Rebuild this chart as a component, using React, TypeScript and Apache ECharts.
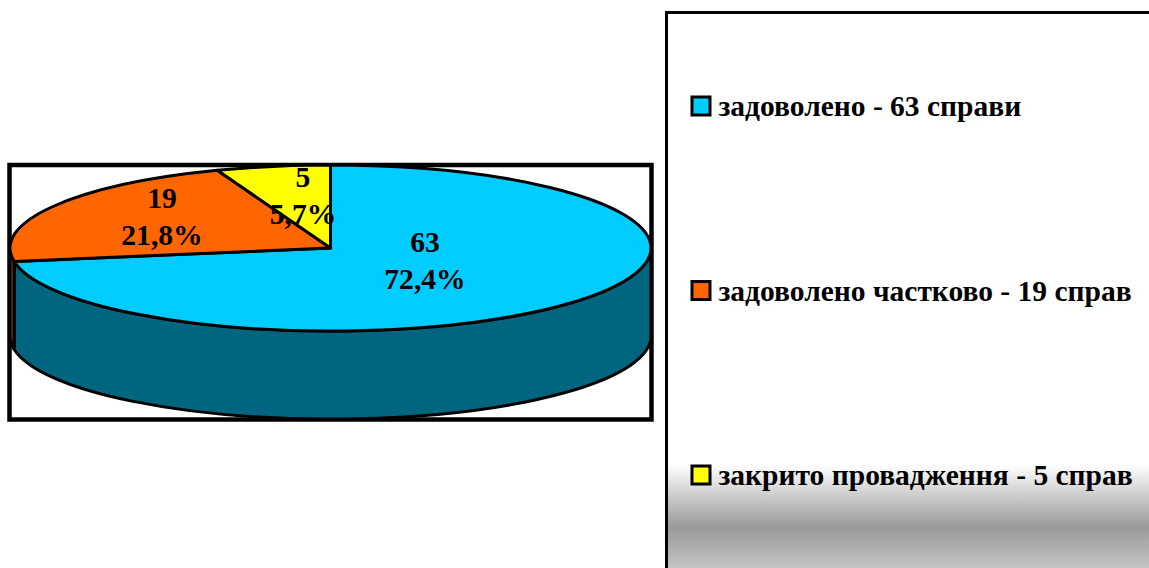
import React, { useEffect, useRef } from "react";
import * as echarts from "echarts";

const legendNames = ["задоволено - 63 справи", "задоволено частково - 19 справ", "закрито провадження - 5 справ"];
const caseCounts = [63, 19, 5];
const percentLabels = ["72,4%", "21,8%", "5,7%"];
const topColors = ["#00CCFF", "#FF6600", "#FFFF00"];
const sideColors = ["#006680", "#803300", "#808000"];

const FONT = "'Liberation Serif', 'Times New Roman', serif";
const CX = 330.5, CY = 248, RX = 320.5, RY = 83, DEPTH = 88;
const LABEL_CENTERS = [[425, 260], [162, 216], [303, 195]];

const total = caseCounts.reduce((a, b) => a + b, 0);
const pt = (a: number, dy = 0) => [CX + RX * Math.sin(a), CY - RY * Math.cos(a) + dy];

function makeSeries(i: number) {
  const before = caseCounts.slice(0, i).reduce((a, b) => a + b, 0);
  return {
    type: "custom",
    name: legendNames[i],
    coordinateSystem: "none",
    silent: true,
    itemStyle: { color: topColors[i] },
    data: [[caseCounts[i], before]],
    renderItem: (_p: any, api: any) => {
      const value = api.value(0), prior = api.value(1);
      const a0 = (prior / total) * 2 * Math.PI;
      const a1 = ((prior + value) / total) * 2 * Math.PI;
      const children: any[] = [];
      const stroke = { stroke: "#000", lineWidth: 3, lineJoin: "round" };
      // visible wall: the front half of the rim only
      const s0 = Math.max(a0, Math.PI / 2), s1 = Math.min(a1, (3 * Math.PI) / 2);
      if (s1 > s0) {
        const [x0, y0] = pt(s0), [x1, y1] = pt(s1), [x2, y2] = pt(s1, DEPTH), [x3, y3] = pt(s0, DEPTH);
        children.push({
          type: "path",
          shape: {
            pathData: `M${x0} ${y0}A${RX} ${RY} 0 0 1 ${x1} ${y1}L${x2} ${y2}A${RX} ${RY} 0 0 0 ${x3} ${y3}Z`,
          },
          style: { fill: sideColors[i], ...stroke },
        });
      }
      const [tx0, ty0] = pt(a0), [tx1, ty1] = pt(a1);
      const large = a1 - a0 > Math.PI ? 1 : 0;
      children.push({
        type: "path",
        shape: {
          pathData: `M${CX} ${CY}L${tx0} ${ty0}A${RX} ${RY} 0 ${large} 1 ${tx1} ${ty1}Z`,
        },
        style: { fill: topColors[i], ...stroke },
      });
      children.push({
        type: "text",
        x: LABEL_CENTERS[i][0],
        y: LABEL_CENTERS[i][1],
        style: {
          text: `${value}\n${percentLabels[i]}`,
          fontFamily: FONT,
          fontWeight: "bold",
          fontSize: 29.6,
          lineHeight: 37,
          fill: "#000",
          align: "center",
          verticalAlign: "middle",
        },
      });
      return { type: "group", children };
    },
  };
}

export default function App() {
  const ref = useRef<HTMLDivElement>(null);
  useEffect(() => {
    document.body.style.margin = "0";
    document.body.style.overflow = "hidden";
    const chart = echarts.init(ref.current!, undefined, { renderer: "svg" });
    chart.setOption({
      animation: false,
      backgroundColor: "#fff",
      graphic: [
        {
          type: "rect",
          z: -1,
          shape: { x: 9.5, y: 165, width: 642, height: 254.5 },
          style: { fill: "#fff", stroke: "#000", lineWidth: 4.5 },
        },
        {
          type: "rect",
          z: -1,
          shape: { x: 666.5, y: 12.5, width: 600, height: 555.5 + 40 },
          style: {
            stroke: "#000",
            lineWidth: 3,
            fill: new echarts.graphic.LinearGradient(0, 0, 0, 1, [
              { offset: 0, color: "#fff" },
              { offset: (465 - 12.5) / 595.5, color: "#fff" },
              { offset: (527 - 12.5) / 595.5, color: "#999" },
              { offset: (568 - 12.5) / 595.5, color: "#c4c4c4" },
              { offset: 1, color: "#c4c4c4" },
            ]),
          },
        },
      ],
      legend: {
        orient: "vertical",
        left: 690.5,
        top: 91,
        padding: 0,
        icon: "rect",
        itemWidth: 18,
        itemHeight: 18,
        itemGap: 154.5,
        selectedMode: false,
        data: legendNames,
        itemStyle: { borderColor: "#000", borderWidth: 3 },
        textStyle: { fontFamily: FONT, fontWeight: "bold", fontSize: 29.5, color: "#000", lineHeight: 30, padding: [0, 0, 0, 3.5] },
      },
      series: caseCounts.map((_, i) => makeSeries(i)),
    });
    return () => chart.dispose();
  }, []);
  return <div ref={ref} style={{ position: "absolute", left: 0, top: 0, width: 1149, height: 568 }} />;
}
